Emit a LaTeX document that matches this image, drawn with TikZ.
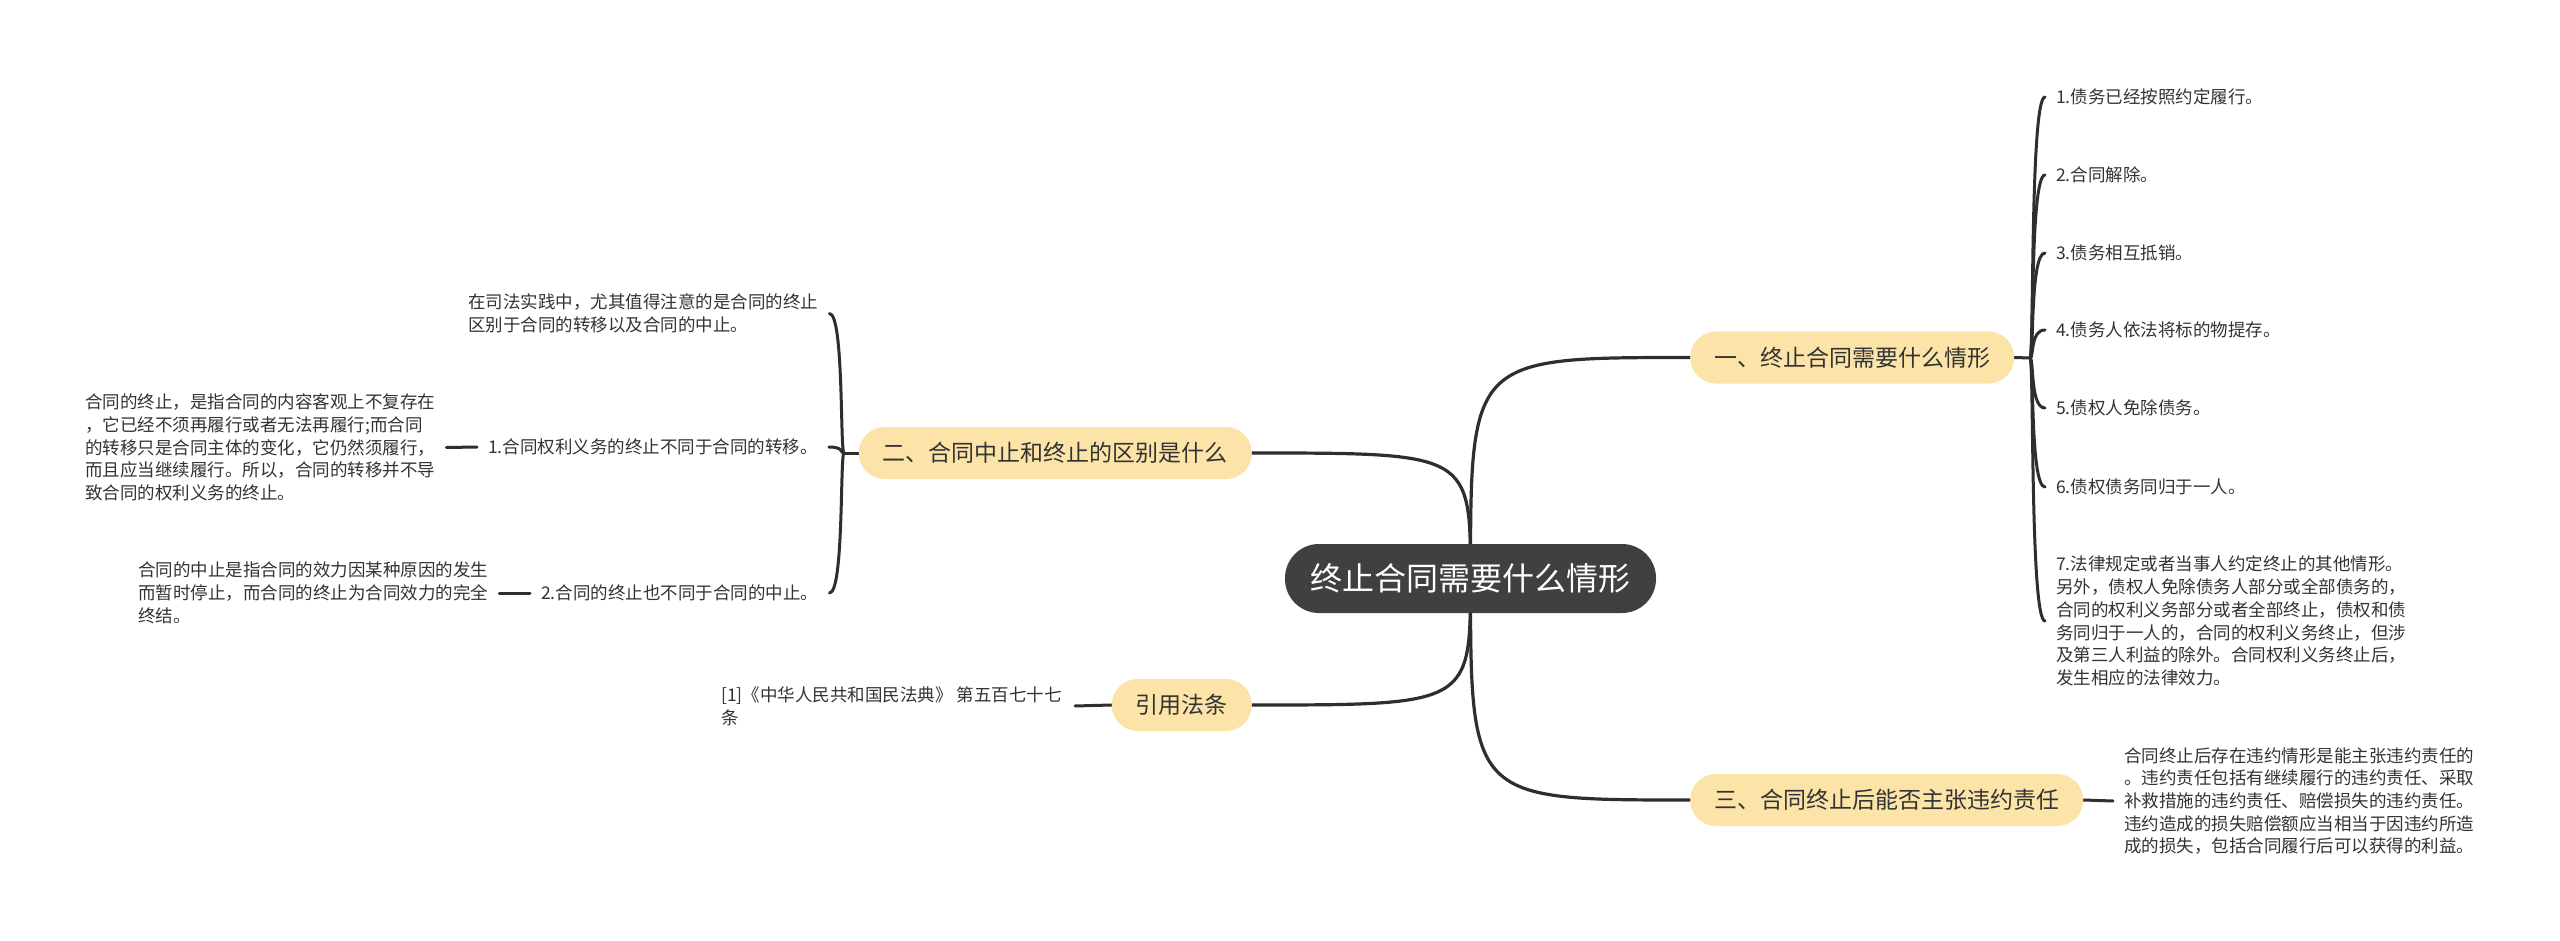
\documentclass[tikz,border=0pt]{standalone}
\usepackage{fontspec}
\newfontfamily\cjk{Noto Sans CJK SC}
\definecolor{rootgray}{HTML}{404040}
\definecolor{brfill}{HTML}{FCE3A8}
\definecolor{txt}{HTML}{333333}
\definecolor{ln}{HTML}{2E2E2E}
\pgfdeclarelayer{background}
\pgfsetlayers{background,main}
\tikzset{
  rootbox/.style={fill=rootgray, text=white, font=\cjk\fontsize{32}{38}\selectfont,
    rounded corners=34pt, minimum height=69pt, inner xsep=25.5pt, inner ysep=0pt},
  brbox/.style={fill=brfill, text=txt, font=\cjk\fontsize{23}{28}\selectfont,
    rounded corners=25.9pt, minimum height=52pt, inner xsep=24pt, inner ysep=0pt},
  leaf/.style={text=txt, font=\cjk\fontsize{17.5}{22.7}\selectfont, align=left,
    inner xsep=11pt, inner ysep=0pt},
  conn/.style={draw=ln, line width=3.2pt, line cap=round},
  sconn/.style={draw=ln, line width=3pt, line cap=round}
}
\begin{document}
\begin{tikzpicture}[x=1pt,y=-1pt]
\useasboundingbox (0,0) rectangle (2560,941);

% root and branches
\node[rootbox] (root) at (1470.5,578.5) {终止合同需要什么情形};
\node[brbox, anchor=west] (b1) at (1690,357.5) {一、终止合同需要什么情形};
\node[brbox, anchor=east] (b2) at (1252,453) {二、合同中止和终止的区别是什么};
\node[brbox, anchor=west] (b3) at (1690,800) {三、合同终止后能否主张违约责任};
\node[brbox, anchor=east] (b4) at (1252,705) {引用法条};

% right leaves of branch 1
\coordinate (jr) at (2030,358);
\node[leaf, anchor=west] (l1) at (2045,97) {1.债务已经按照约定履行。};
\node[leaf, anchor=west] (l2) at (2045,175) {2.合同解除。};
\node[leaf, anchor=west] (l3) at (2045,253) {3.债务相互抵销。};
\node[leaf, anchor=west] (l4) at (2045,330) {4.债务人依法将标的物提存。};
\node[leaf, anchor=west] (l5) at (2045,408) {5.债权人免除债务。};
\node[leaf, anchor=west] (l6) at (2045,487) {6.债权债务同归于一人。};
\node[leaf, anchor=west] (l7) at (2045,621) {7.法律规定或者当事人约定终止的其他情形。\\另外，债权人免除债务人部分或全部债务的，\\合同的权利义务部分或者全部终止，债权和债\\务同归于一人的，合同的权利义务终止，但涉\\及第三人利益的除外。合同权利义务终止后，\\发生相应的法律效力。};

% branch 3 child
\node[leaf, anchor=west] (c3) at (2113,801) {合同终止后存在违约情形是能主张违约责任的\\。违约责任包括有继续履行的违约责任、采取\\补救措施的违约责任、赔偿损失的违约责任。\\违约造成的损失赔偿额应当相当于因违约所造\\成的损失，包括合同履行后可以获得的利益。};

% branch 2 children
\coordinate (jl) at (844,453);
\node[leaf, anchor=west] (la) at (457,313.5) {在司法实践中，尤其值得注意的是合同的终止\\区别于合同的转移以及合同的中止。};
\node[leaf, anchor=west] (lb) at (477,447) {1.合同权利义务的终止不同于合同的转移。};
\node[leaf, anchor=west] (lbg) at (74,447.5) {合同的终止，是指合同的内容客观上不复存在\\，它已经不须再履行或者无法再履行;而合同\\的转移只是合同主体的变化，它仍然须履行，\\而且应当继续履行。所以，合同的转移并不导\\致合同的权利义务的终止。};
\node[leaf, anchor=west] (lc) at (530,593) {2.合同的终止也不同于合同的中止。};
\node[leaf, anchor=west] (lcg) at (127,593) {合同的中止是指合同的效力因某种原因的发生\\而暂时停止，而合同的终止为合同效力的完全\\终结。};

% branch 4 child
\node[leaf, anchor=east, inner xsep=13pt] (ref) at (1075,706) {[1]《中华人民共和国民法典》 第五百七十七\\条};

\begin{pgfonlayer}{background}
\fill[white] (0,0) rectangle (2560,941);
% root to branches
\path[conn] (root.center) .. controls (root.center |- b1.west) .. (b1.west);
\path[conn] (root.center) .. controls (root.center |- b2.east) .. (b2.east);
\path[conn] (root.center) .. controls (root.center |- b3.west) .. (b3.west);
\path[conn] (root.center) .. controls (root.center |- b4.east) .. (b4.east);
% branch 1 bracket
\path[sconn] (b1.east) -- (jr);
\foreach \n in {l1,l2,l3,l4,l5,l6,l7}{
  \path[sconn] (jr) .. controls ([xshift=4pt]jr) and (jr |- \n.west) .. (\n.west);
}
% branch 3
\path[sconn] (b3.east) -- (c3.west);
% branch 2 bracket
\path[sconn] (b2.west) -- (jl);
\foreach \n in {la,lb,lc}{
  \path[sconn] (jl) .. controls ([xshift=-4pt]jl) and (jl |- \n.east) .. (\n.east);
}
\path[sconn] (lb.west) -- (lbg.east);
\path[sconn] (lc.west) -- (lcg.east);
% branch 4
\path[sconn] (b4.west) -- (ref.east);
\end{pgfonlayer}
\end{tikzpicture}
\end{document}
